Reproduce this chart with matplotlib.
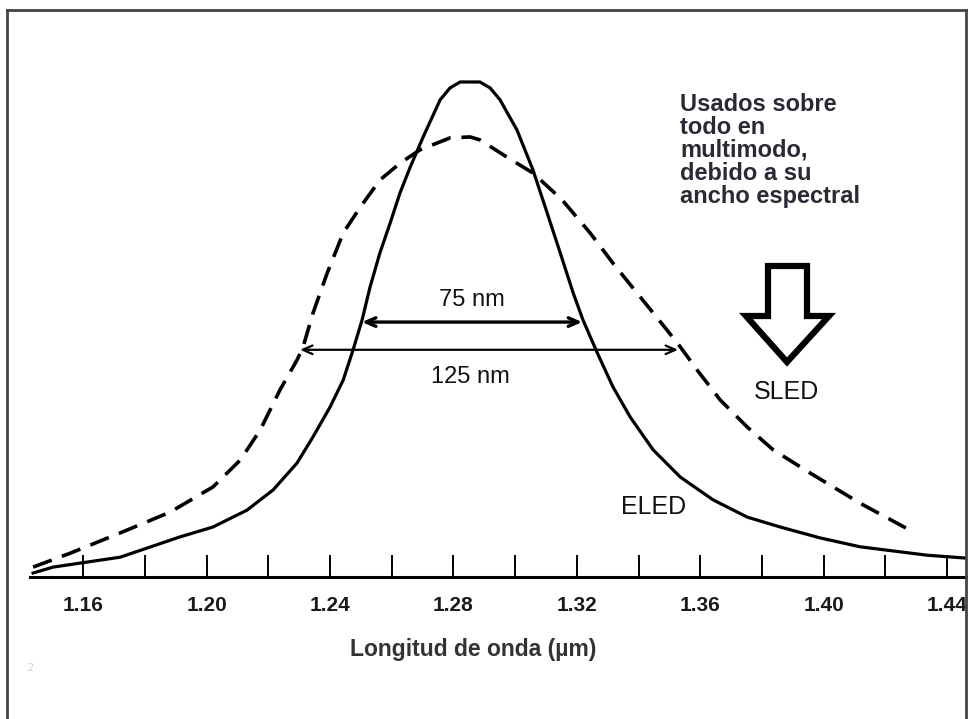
import matplotlib
matplotlib.use("Agg")
import matplotlib.pyplot as plt
from matplotlib.patches import Polygon
from matplotlib.lines import Line2D

# wavelength (um) and relative power
eled_x = [1.1438, 1.1503, 1.1720, 1.1914, 1.2021, 1.2131, 1.2216, 1.2293, 1.2345,
          1.2400, 1.2443, 1.2475, 1.2504, 1.2530, 1.2562, 1.2595, 1.2627, 1.2660,
          1.2702, 1.2757, 1.2789, 1.2822, 1.2886, 1.2919, 1.2951, 1.3006, 1.3058,
          1.3104, 1.3146, 1.3188, 1.3220, 1.3266, 1.3317, 1.3373, 1.3447, 1.3535,
          1.3641, 1.3752, 1.3859, 1.3988, 1.4118, 1.4335, 1.4465]
eled_y = [0.008, 0.020, 0.040, 0.081, 0.101, 0.135, 0.176, 0.230, 0.283,
          0.343, 0.398, 0.459, 0.519, 0.586, 0.655, 0.715, 0.776, 0.828,
          0.889, 0.964, 0.988, 1.000, 1.000, 0.988, 0.964, 0.903, 0.822,
          0.735, 0.655, 0.574, 0.519, 0.453, 0.384, 0.323, 0.257, 0.202,
          0.156, 0.121, 0.101, 0.079, 0.061, 0.044, 0.038]

sled_x = [1.1438, 1.1558, 1.1720, 1.1882, 1.2021, 1.2109, 1.2174, 1.2238, 1.2293,
          1.2313, 1.2345, 1.2391, 1.2443, 1.2498, 1.2562, 1.2627, 1.2692, 1.2789,
          1.2854, 1.2886, 1.2974, 1.3058, 1.3152, 1.3243, 1.3317, 1.3405, 1.3492,
          1.3535, 1.3590, 1.3664, 1.3752, 1.3836, 1.3956, 1.4118, 1.4290]
sled_y = [0.020, 0.048, 0.089, 0.131, 0.182, 0.236, 0.297, 0.378, 0.438,
          0.465, 0.533, 0.614, 0.695, 0.747, 0.802, 0.836, 0.863, 0.887,
          0.889, 0.883, 0.848, 0.816, 0.762, 0.695, 0.634, 0.566, 0.499,
          0.465, 0.418, 0.358, 0.303, 0.257, 0.210, 0.149, 0.091]

major_ticks = [1.16, 1.20, 1.24, 1.28, 1.32, 1.36, 1.40, 1.44]
minor_ticks = [1.18, 1.22, 1.26, 1.30, 1.34, 1.38, 1.42]
tick_labels = ["1.16", "1.20", "1.24", "1.28", "1.32", "1.36", "1.40", "1.44"]

eled_fwhm = (1.2504, 1.3217, 0.515)
sled_fwhm = (1.2303, 1.3528, 0.459)

W, H = 968, 719
arial = ["Liberation Sans", "DejaVu Sans"]

fig = plt.figure(figsize=(W / 100, H / 100), dpi=100)
ax = fig.add_axes([30 / W, (H - 577) / H, 936 / W, 517 / H])

ax.plot(eled_x, eled_y, color="black", lw=2.3, solid_joinstyle="round")
ax.plot(sled_x, sled_y, color="black", lw=2.6, linestyle=(0, (5.5, 3)))

ax.set_xlim(1.1428, 1.4461)
ax.set_ylim(0, 1.0444)
for s in ["top", "left", "right"]:
    ax.spines[s].set_visible(False)
ax.spines["bottom"].set_linewidth(2.2)
ax.set_yticks([])
ax.set_xticks(major_ticks)
ax.set_xticks(minor_ticks, minor=True)
ax.set_xticklabels(tick_labels, family=arial, fontweight="bold", fontsize=15,
                   color="#1a1a1a")
ax.tick_params(axis="x", which="both", direction="in", length=16, width=1.4,
               pad=14)

ax.set_xlabel("Longitud de onda (µm)", family=arial, fontweight="bold",
              fontsize=16.5, color="#333333")
ax.xaxis.set_label_coords(0.473, -0.141)
ax.xaxis.label.set_va("center")

# FWHM arrows
ax.annotate("", xy=(eled_fwhm[1], eled_fwhm[2]), xytext=(eled_fwhm[0], eled_fwhm[2]),
            arrowprops=dict(arrowstyle="<->,head_length=0.5,head_width=0.22",
                            lw=2.4, color="black", shrinkA=0, shrinkB=0,
                            mutation_scale=14))
ax.annotate("", xy=(sled_fwhm[1], sled_fwhm[2]), xytext=(sled_fwhm[0], sled_fwhm[2]),
            arrowprops=dict(arrowstyle="<->,head_length=0.5,head_width=0.22",
                            lw=1.6, color="black", shrinkA=0, shrinkB=0,
                            mutation_scale=14))
ax.text(1.286, 0.56, "75 nm", family=arial, fontsize=17, ha="center",
        va="center", color="#111111")
ax.text(1.2854, 0.404, "125 nm", family=arial, fontsize=17, ha="center",
        va="center", color="#111111")
ax.text(1.345, 0.141, "ELED", family=arial, fontsize=18, ha="center",
        va="center", color="#111111")
ax.text(1.388, 0.374, "SLED", family=arial, fontsize=18, ha="center",
        va="center", color="#111111")


def fpt(x, y):
    return (x / W, 1 - y / H)


# outlined block arrow pointing at SLED
arrow = [fpt(768, 266), fpt(807, 266), fpt(807, 316), fpt(829, 316),
         fpt(787, 362), fpt(746, 316), fpt(768, 316)]
fig.patches.append(Polygon(arrow, closed=True, transform=fig.transFigure,
                           facecolor="white", edgecolor="black", lw=4.5,
                           joinstyle="miter"))

fig.text(680 / W, 1 - 93 / H,
         "Usados sobre\ntodo en\nmultimodo,\ndebido a su\nancho espectral",
         family=arial, fontweight="bold", fontsize=17, color="#2a2a35",
         ha="left", va="top", linespacing=1.0)

fig.text(30 / W, 1 - 668 / H, "2", fontsize=7, color="#d0d0d0", ha="center",
         va="center")

# frame around the picture
frame = dict(color="#444444", lw=2, transform=fig.transFigure)
fig.lines.append(Line2D([7 / W, 7 / W], [0, 1 - 10 / H], **frame))
fig.lines.append(Line2D([7 / W, 966 / W], [1 - 10 / H, 1 - 10 / H], **frame))
fig.lines.append(Line2D([966 / W, 966 / W], [0, 1 - 10 / H], **frame))

fig.savefig("out.png", dpi=100)
